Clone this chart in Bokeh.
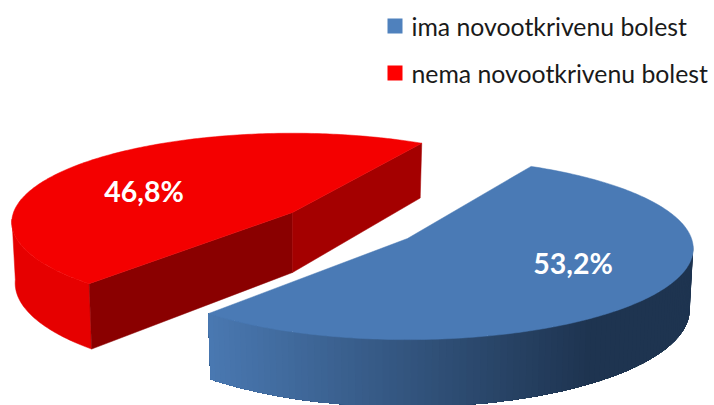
import numpy as np
from bokeh.plotting import figure
from bokeh.models import Range1d
from bokeh.embed import file_html
from bokeh.resources import INLINE
from bokeh.core.properties import value

# ---- data -----------------------------------------------------------------
categories = ["ima novootkrivenu bolest", "nema novootkrivenu bolest"]
shares = [53.2, 46.8]
share_labels = ["53,2%", "46,8%"]
legend_colors = ["#4f81bd", "#ff0000"]

# ---- view of the 3-D disc (perspective projection) ------------------------
W, H = 714, 405
K = 0.11                        # perspective strength
DEPTH = 60.0                    # wall height
START_DEG = [-61.5, 132.0]      # where each slice starts (clockwise on screen)
HALF_W = [284.0, 279.0]
HALF_H = [90.0, 88.0]
APEX = [(407.0, 238.0), (292.0, 212.0)]  # exploded slice apexes
FONT = "Lato"


def project(theta_deg, s, drop=0.0):
    t = np.radians(theta_deg)
    X, Y = np.cos(t), np.sin(t)
    w = 1 - K * Y
    squeeze = 1 - 0.012 * drop / DEPTH
    return APEX[s][0] + squeeze * HALF_W[s] * X / w, APEX[s][1] + (HALF_H[s] * Y + drop) / w


def top_face(s, a0, a1):
    th = np.linspace(a0, a1, 200)
    xs, ys = project(th, s)
    return [APEX[s][0], *xs], [APEX[s][1], *ys]


def mix(c0, c1, t):
    return "#%02x%02x%02x" % tuple(int(round(a + (b - a) * t)) for a, b in zip(c0, c1))


p = figure(width=W, height=H, output_backend="svg", toolbar_location=None,
           x_range=Range1d(0, W), y_range=Range1d(H, 0),
           min_border=0, min_border_left=0, min_border_right=0,
           min_border_top=0, min_border_bottom=0)
p.axis.visible = False
p.grid.visible = False
p.outline_line_color = None
p.background_fill_color = "#ffffff"
p.border_fill_color = "#ffffff"

sweeps = [v / sum(shares) * 360.0 for v in shares]
blue_a0, blue_a1 = START_DEG[0], START_DEG[0] + sweeps[0]
red_a0, red_a1 = START_DEG[1], START_DEG[1] + sweeps[1]
tangent = np.degrees(np.arcsin(K))

# ---- red slice ------------------------------------------------------------
th = np.linspace(red_a0, 180 - tangent + 2, 60)
xs, ys = project(th, 1)
xb, yb = project(th, 1, DEPTH)
p.patch([*xs, *xb[::-1]], [*ys, *yb[::-1]], fill_color="#e60000", line_color="#e60000", line_width=0.5)
ax, ay = APEX[1]
for a, col in ((red_a0, "#8a0000"), (red_a1, "#a40000")):
    x0, y0 = project(a, 1)
    x1, y1 = project(a, 1, DEPTH)
    p.patch([ax, x0, x1, ax], [ay, y0, y1, ay + DEPTH], fill_color=col, line_color=col, line_width=0.5)
fx, fy = top_face(1, red_a0, red_a1)
p.patch(fx, fy, fill_color="#f40000", line_color="#f40000", line_width=0.5)

# ---- blue slice -----------------------------------------------------------
th = np.linspace(tangent - 2, blue_a1, 100)
xs, ys = project(th, 0)
xb, yb = project(th, 0, DEPTH)
c0, c1 = (0x4a, 0x79, 0xb2), (0x1e, 0x34, 0x50)
x_left = xs[-1]
for i in range(len(th) - 1):
    t = np.clip((xs[i] - x_left) / 385.0, 0, 1)
    p.patch([*xs[i:], *xb[i:][::-1]], [*ys[i:], *yb[i:][::-1]],
            fill_color=mix(c0, c1, t), line_color=None)
fx, fy = top_face(0, blue_a0, blue_a1)
p.patch(fx, fy, fill_color="#4a7ab5", line_color="#4a7ab5", line_width=0.5)

# ---- data labels ----------------------------------------------------------
p.text([572.5, 143.5], [262, 190], text=share_labels, text_color="#ffffff",
       text_font=value(FONT), text_font_style="bold", text_font_size="28.5px",
       text_align="center", text_baseline="middle")

# ---- legend ---------------------------------------------------------------
p.rect([394.5, 394.5], [25.5, 72.5], width=15, height=15, fill_color=legend_colors, line_color=None)
p.text([411, 411], [26, 73], text=categories, text_color="#1a1a1a",
       text_font=value(FONT), text_font_size="24.8px",
       text_align="left", text_baseline="middle")

open("out.html", "w").write(file_html(p, INLINE))
